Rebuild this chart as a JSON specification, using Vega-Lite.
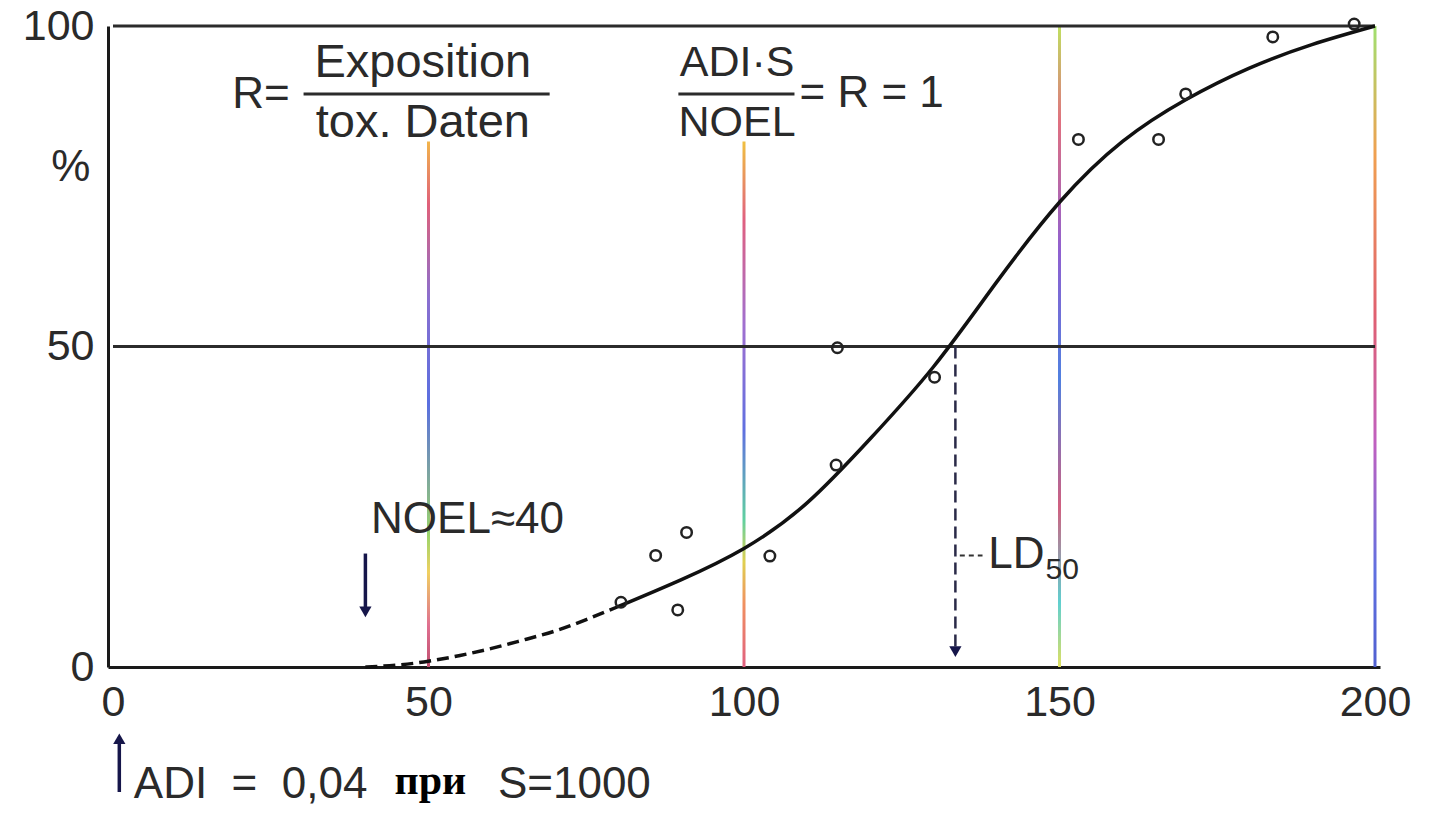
{
  "$schema": "https://vega.github.io/schema/vega-lite/v6.json",
  "width": 1272,
  "height": 641,
  "autosize": {"type": "none"},
  "padding": {"left": 108, "top": 26, "right": 51, "bottom": 147},
  "background": "white",
  "config": {
    "view": {"stroke": null},
    "font": "Liberation Sans",
    "axis": {"grid": false, "ticks": false, "domainColor": "#1a1a1a", "domainWidth": 3, "labelFontSize": 43, "labelColor": "#2a2a2a", "labelFont": "Liberation Sans", "title": null}
  },
  "datasets": {
    "points": [
      {"dose": 80.5, "pct": 10.1}, {"dose": 86.0, "pct": 17.4}, {"dose": 89.5, "pct": 8.9},
      {"dose": 90.9, "pct": 21.0}, {"dose": 104.1, "pct": 17.3}, {"dose": 114.8, "pct": 49.8},
      {"dose": 114.6, "pct": 31.5}, {"dose": 130.2, "pct": 45.2}, {"dose": 153.0, "pct": 82.3},
      {"dose": 165.7, "pct": 82.3}, {"dose": 170.0, "pct": 89.4}, {"dose": 183.8, "pct": 98.3},
      {"dose": 196.7, "pct": 100.3}
    ],
    "curve_dashed": [
      {"dose": 40, "pct": 0}, {"dose": 45, "pct": 0.3}, {"dose": 50, "pct": 0.9}, {"dose": 55, "pct": 1.8},
      {"dose": 60, "pct": 2.9}, {"dose": 65, "pct": 4.2}, {"dose": 70, "pct": 5.6}, {"dose": 75, "pct": 7.4},
      {"dose": 80, "pct": 9.4}
    ],
    "curve_solid": [
      {"dose": 80, "pct": 9.4}, {"dose": 90, "pct": 13.6},
      {"dose": 100, "pct": 18.5}, {"dose": 110, "pct": 25.6},
      {"dose": 120, "pct": 35.6}, {"dose": 130, "pct": 46.8},
      {"dose": 140, "pct": 60}, {"dose": 150, "pct": 72.5},
      {"dose": 160, "pct": 82}, {"dose": 170, "pct": 88.5},
      {"dose": 180, "pct": 93.4}, {"dose": 190, "pct": 97.1},
      {"dose": 200, "pct": 100}
    ],
    "hlines": [
      {"pct": 100, "x1": 0, "x2": 200},
      {"pct": 50, "x1": 0, "x2": 200}
    ],
    "ld50": [{"dose": 133.5, "top": 50, "bottom": 2}],
    "arrows": [
      {"name": "NOEL", "dose": 40, "top": 17.7, "bottom": 9},
      {"name": "ADI", "dose": 1, "top": -12, "bottom": -19.5}
    ],
    "heads": [
      {"name": "NOEL", "dose": 40, "pct": 8.6, "shape": "down"},
      {"name": "LD50", "dose": 133.5, "pct": 2.4, "shape": "down"},
      {"name": "ADI", "dose": 1, "pct": -11.2, "shape": "up"}
    ],
    "fraclines": [
      {"x1": 30.2, "x2": 69.2, "pct": 89.4},
      {"x1": 89.6, "x2": 108.0, "pct": 89.4}
    ],
    "leader": [{"x1": 134.2, "x2": 137.8, "pct": 17.4}],
    "labels_big": [
      {"dose": 49.1, "pct": 94.3, "text": "Exposition"},
      {"dose": 49.1, "pct": 84.8, "text": "tox. Daten"}
    ],
    "labels_mid": [
      {"dose": 98.9, "pct": 94.3, "text": "ADI·S"},
      {"dose": 98.9, "pct": 84.8, "text": "NOEL"}
    ],
    "labels_left": [
      {"dose": 18.9, "pct": 89.2, "text": "R="},
      {"dose": 108.8, "pct": 89.4, "text": "= R = 1"},
      {"dose": 40.9, "pct": 22.9, "text": "NOEL≈40"},
      {"dose": 138.7, "pct": 17.4, "text": "LD"},
      {"dose": -9.8, "pct": 77.8, "text": "%"},
      {"dose": 3.3, "pct": -18.4, "text": "ADI\u00a0\u00a0=\u00a0\u00a00,04"},
      {"dose": 61.0, "pct": -18.4, "text": "S=1000"}
    ],
    "labels_sub": [{"dose": 147.8, "pct": 15.2, "text": "50"}],
    "labels_serif": [{"dose": 44.6, "pct": -17.8, "text": "при"}],
    "v50": [{"dose": 50, "top": 82, "bottom": 0}],
    "v100": [{"dose": 100, "top": 82, "bottom": 0}],
    "v150": [{"dose": 150, "top": 100, "bottom": 0}],
    "v200": [{"dose": 200, "top": 100, "bottom": 0}]
  },
  "layer": [
    {
      "data": {"name": "v50"},
      "mark": {"type": "bar", "width": 3, "fill": {"gradient": "linear", "x1": 0, "y1": 0, "x2": 0, "y2": 1, "stops": [
        {"offset": 0, "color": "#f2b54a"}, {"offset": 0.12, "color": "#e0607a"}, {"offset": 0.3, "color": "#8a6fd0"},
        {"offset": 0.5, "color": "#5a6fe0"}, {"offset": 0.75, "color": "#9ad46a"}, {"offset": 0.82, "color": "#f0d060"},
        {"offset": 0.92, "color": "#e07090"}, {"offset": 1, "color": "#c05070"}]}},
      "encoding": {
        "x": {"field": "dose", "type": "quantitative", "scale": {"domain": [0, 200], "nice": false}, "axis": {"values": [0, 50, 100, 150, 200], "labelPadding": 14, "labelFlush": false}},
        "y": {"field": "top", "type": "quantitative", "scale": {"domain": [0, 100], "nice": false}, "axis": {"values": [0, 50, 100], "labelPadding": 14}},
        "y2": {"field": "bottom"}
      }
    },
    {
      "data": {"name": "v100"},
      "mark": {"type": "bar", "width": 3, "fill": {"gradient": "linear", "x1": 0, "y1": 0, "x2": 0, "y2": 1, "stops": [
        {"offset": 0, "color": "#f0c040"}, {"offset": 0.15, "color": "#e06080"}, {"offset": 0.35, "color": "#a070d0"},
        {"offset": 0.55, "color": "#6070e0"}, {"offset": 0.72, "color": "#60d0a0"}, {"offset": 0.8, "color": "#e0d050"},
        {"offset": 0.88, "color": "#f09060"}, {"offset": 1, "color": "#e06080"}]}},
      "encoding": {
        "x": {"field": "dose", "type": "quantitative"},
        "y": {"field": "top", "type": "quantitative"},
        "y2": {"field": "bottom"}
      }
    },
    {
      "data": {"name": "v150"},
      "mark": {"type": "bar", "width": 3, "fill": {"gradient": "linear", "x1": 0, "y1": 0, "x2": 0, "y2": 1, "stops": [
        {"offset": 0, "color": "#c0e060"}, {"offset": 0.15, "color": "#e07080"}, {"offset": 0.35, "color": "#9060d0"},
        {"offset": 0.55, "color": "#5080e0"}, {"offset": 0.75, "color": "#d06080"}, {"offset": 0.9, "color": "#60d0d0"},
        {"offset": 1, "color": "#e0e060"}]}},
      "encoding": {
        "x": {"field": "dose", "type": "quantitative"},
        "y": {"field": "top", "type": "quantitative"},
        "y2": {"field": "bottom"}
      }
    },
    {
      "data": {"name": "v200"},
      "mark": {"type": "bar", "width": 3, "fill": {"gradient": "linear", "x1": 0, "y1": 0, "x2": 0, "y2": 1, "stops": [
        {"offset": 0, "color": "#a0e070"}, {"offset": 0.2, "color": "#f0a050"}, {"offset": 0.45, "color": "#e06070"},
        {"offset": 0.65, "color": "#c060c0"}, {"offset": 0.85, "color": "#6070e0"}, {"offset": 1, "color": "#5060d0"}]}},
      "encoding": {
        "x": {"field": "dose", "type": "quantitative"},
        "y": {"field": "top", "type": "quantitative"},
        "y2": {"field": "bottom"}
      }
    },
    {
      "data": {"name": "hlines"},
      "mark": {"type": "rule", "color": "#2b2b2b", "strokeWidth": 3},
      "encoding": {
        "x": {"field": "x1", "type": "quantitative"},
        "x2": {"field": "x2"},
        "y": {"field": "pct", "type": "quantitative"}
      }
    },
    {
      "data": {"name": "ld50"},
      "mark": {"type": "rule", "color": "#2a2a48", "strokeWidth": 2.5, "strokeDash": [12, 6]},
      "encoding": {
        "x": {"field": "dose", "type": "quantitative"},
        "y": {"field": "top", "type": "quantitative"},
        "y2": {"field": "bottom"}
      }
    },
    {
      "data": {"name": "leader"},
      "mark": {"type": "rule", "color": "#333", "strokeWidth": 2, "strokeDash": [5, 4]},
      "encoding": {
        "x": {"field": "x1", "type": "quantitative"},
        "x2": {"field": "x2"},
        "y": {"field": "pct", "type": "quantitative"}
      }
    },
    {
      "data": {"name": "arrows"},
      "mark": {"type": "rule", "color": "#16164a", "strokeWidth": 3.5},
      "encoding": {
        "x": {"field": "dose", "type": "quantitative"},
        "y": {"field": "top", "type": "quantitative"},
        "y2": {"field": "bottom"}
      }
    },
    {
      "data": {"name": "heads"},
      "mark": {"type": "point", "filled": true, "color": "#16164a", "size": 150, "opacity": 1},
      "encoding": {
        "x": {"field": "dose", "type": "quantitative"},
        "y": {"field": "pct", "type": "quantitative"},
        "shape": {"field": "shape", "type": "nominal", "scale": {"domain": ["down", "up"], "range": ["triangle-down", "triangle-up"]}, "legend": null}
      }
    },
    {
      "data": {"name": "curve_dashed"},
      "mark": {"type": "line", "color": "#111", "strokeWidth": 3.5, "strokeDash": [12, 6], "interpolate": "natural"},
      "encoding": {
        "x": {"field": "dose", "type": "quantitative"},
        "y": {"field": "pct", "type": "quantitative"}
      }
    },
    {
      "data": {"name": "curve_solid"},
      "mark": {"type": "line", "color": "#111", "strokeWidth": 3.5, "interpolate": "natural"},
      "encoding": {
        "x": {"field": "dose", "type": "quantitative"},
        "y": {"field": "pct", "type": "quantitative"}
      }
    },
    {
      "data": {"name": "points"},
      "mark": {"type": "point", "shape": "circle", "filled": false, "color": "#222", "strokeWidth": 2.5, "size": 110, "opacity": 1},
      "encoding": {
        "x": {"field": "dose", "type": "quantitative"},
        "y": {"field": "pct", "type": "quantitative"}
      }
    },
    {
      "data": {"name": "fraclines"},
      "mark": {"type": "rule", "color": "#2b2b2b", "strokeWidth": 3},
      "encoding": {
        "x": {"field": "x1", "type": "quantitative"},
        "x2": {"field": "x2"},
        "y": {"field": "pct", "type": "quantitative"}
      }
    },
    {
      "data": {"name": "labels_big"},
      "mark": {"type": "text", "fontSize": 47, "align": "center", "baseline": "middle", "color": "#2a2a2a", "font": "Liberation Sans"},
      "encoding": {
        "x": {"field": "dose", "type": "quantitative"},
        "y": {"field": "pct", "type": "quantitative"},
        "text": {"field": "text"}
      }
    },
    {
      "data": {"name": "labels_mid"},
      "mark": {"type": "text", "fontSize": 43, "align": "center", "baseline": "middle", "color": "#2a2a2a", "font": "Liberation Sans"},
      "encoding": {
        "x": {"field": "dose", "type": "quantitative"},
        "y": {"field": "pct", "type": "quantitative"},
        "text": {"field": "text"}
      }
    },
    {
      "data": {"name": "labels_left"},
      "mark": {"type": "text", "fontSize": 44, "align": "left", "baseline": "middle", "color": "#2a2a2a", "font": "Liberation Sans"},
      "encoding": {
        "x": {"field": "dose", "type": "quantitative"},
        "y": {"field": "pct", "type": "quantitative"},
        "text": {"field": "text"}
      }
    },
    {
      "data": {"name": "labels_sub"},
      "mark": {"type": "text", "fontSize": 30, "align": "left", "baseline": "middle", "color": "#2a2a2a", "font": "Liberation Sans"},
      "encoding": {
        "x": {"field": "dose", "type": "quantitative"},
        "y": {"field": "pct", "type": "quantitative"},
        "text": {"field": "text"}
      }
    },
    {
      "data": {"name": "labels_serif"},
      "mark": {"type": "text", "fontSize": 42, "fontWeight": "bold", "align": "left", "baseline": "middle", "color": "#000", "font": "Liberation Serif"},
      "encoding": {
        "x": {"field": "dose", "type": "quantitative"},
        "y": {"field": "pct", "type": "quantitative"},
        "text": {"field": "text"}
      }
    }
  ]
}
